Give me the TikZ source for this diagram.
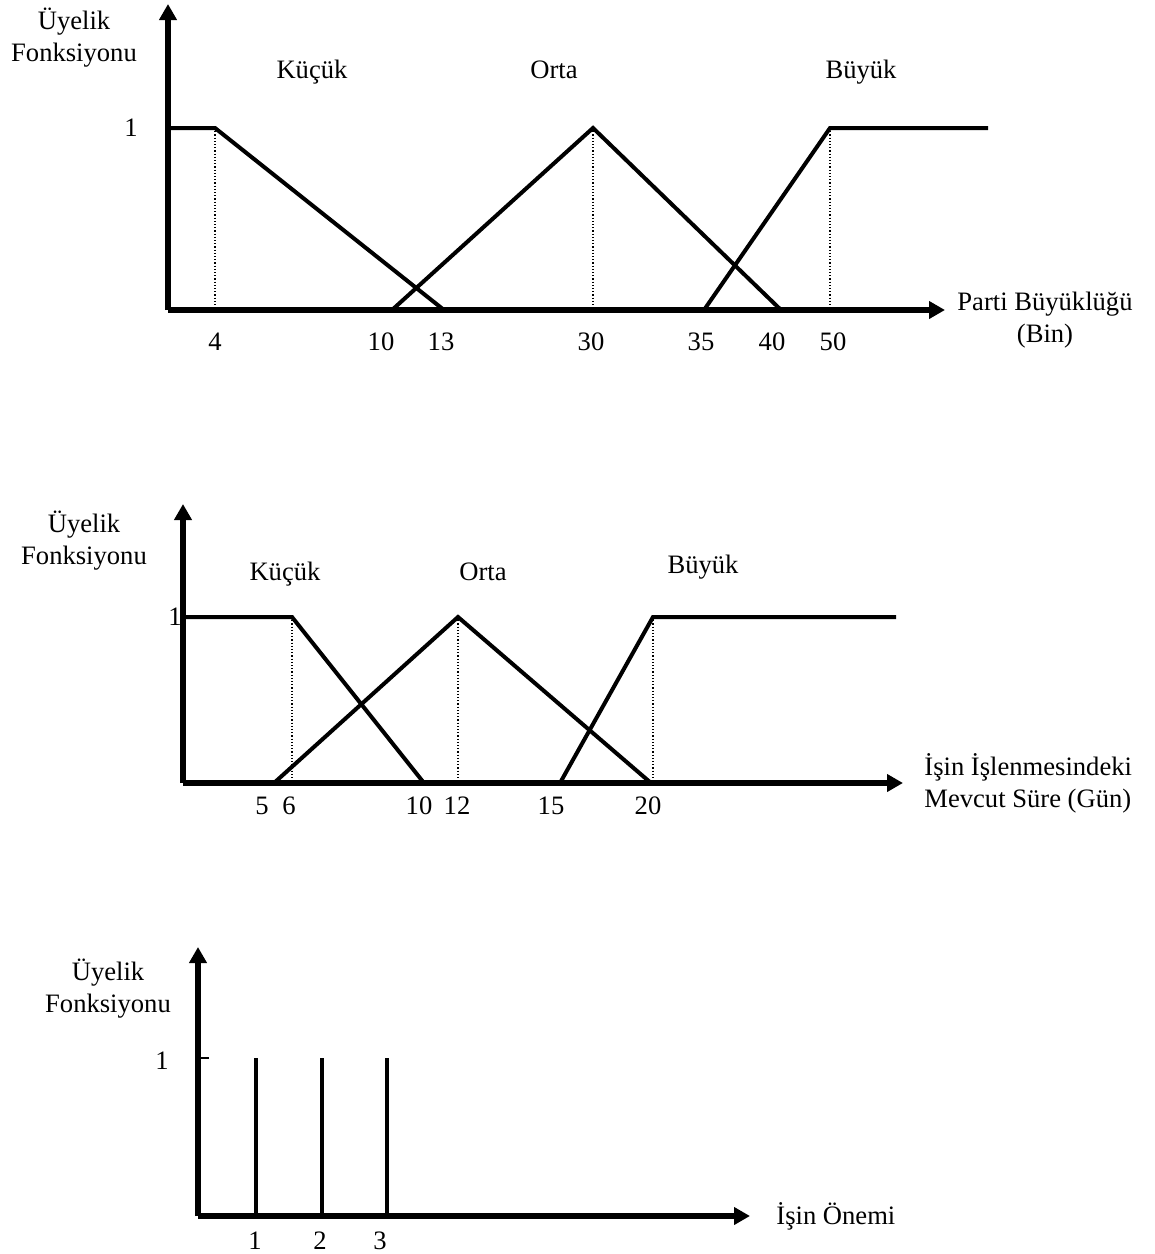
\documentclass[tikz,border=0pt]{standalone}
\usepackage{fontspec}
\setmainfont{Liberation Serif}
\usetikzlibrary{arrows.meta}
\tikzset{
  eksen/.style={
    line width=2.6pt,
    -{Triangle[length=8pt,width=8.5pt]}
  },
  uyelik/.style={
    line width=2pt,
    line join=miter
  },
  kesik/.style={
    densely dotted,
    line width=.6pt
  },
  cubuk/.style={
    line width=2pt
  },
  yazi/.style={
    font=\fontsize{13.3}{16}\selectfont,
    inner sep=0pt,
    align=center
  },
  solyazi/.style={
    yazi,
    align=left,
    anchor=west
  },
  kume/.style={
    yazi,
    anchor=base
  }
}

\begin{document}
\begin{tikzpicture}[x=.5pt,y=-.5pt]
\useasboundingbox (0,0) rectangle (1155,1254);

% parti buyuklugu
\coordinate (o1) at (168,310);
\coordinate (y1) at (168,4);
\coordinate (x1) at (945,310);
\coordinate (k1a) at (168,128);
\coordinate (k1b) at (215,128);
\coordinate (k1c) at (444,310);
\coordinate (or1a) at (392,310);
\coordinate (or1b) at (593,128);
\coordinate (or1c) at (781,310);
\coordinate (b1a) at (704,310);
\coordinate (b1b) at (830,128);
\coordinate (b1c) at (988,128);
\draw[kesik] (k1b) -- (k1b |- o1);
\draw[kesik] (or1b) -- (or1b |- o1);
\draw[kesik] (b1b) -- (b1b |- o1);
\draw[uyelik] (k1a) -- (k1b) -- (k1c);
\draw[uyelik] (or1a) -- (or1b) -- (or1c);
\draw[uyelik] (b1a) -- (b1b) -- (b1c);
\draw[eksen] (o1) -- (y1);
\draw[eksen] (o1) -- (x1);
\node[yazi] (f1) at (74,38) {Üyelik\\Fonksiyonu};
\node[yazi] (bir1) at (131,128) {1};
\node[kume] (kucuk1) at (312,78) {Küçük};
\node[kume] (orta1) at (554,78) {Orta};
\node[kume] (buyuk1) at (861,78) {Büyük};
\node[yazi] (p1) at (1045,320) {Parti Büyüklüğü\\(Bin)};
\foreach \x/\t in {215/4,381/10,441/13,591/30,701/35,772/40,833/50}
  \node[yazi] at (\x,342) {\t};

% islenme suresi
\coordinate (o2) at (183,783);
\coordinate (y2) at (183,504);
\coordinate (x2) at (903,783);
\coordinate (k2a) at (183,617);
\coordinate (k2b) at (292,617);
\coordinate (k2c) at (424,783);
\coordinate (or2a) at (274,783);
\coordinate (or2b) at (458,617);
\coordinate (or2c) at (651,783);
\coordinate (b2a) at (560,783);
\coordinate (b2b) at (653,617);
\coordinate (b2c) at (896,617);
\draw[kesik] (k2b) -- (k2b |- o2);
\draw[kesik] (or2b) -- (or2b |- o2);
\draw[kesik] (b2b) -- (b2b |- o2);
\draw[uyelik] (k2a) -- (k2b) -- (k2c);
\draw[uyelik] (or2a) -- (or2b) -- (or2c);
\draw[uyelik] (b2a) -- (b2b) -- (b2c);
\draw[eksen] (o2) -- (y2);
\draw[eksen] (o2) -- (x2);
\node[yazi] (f2) at (84,541) {Üyelik\\Fonksiyonu};
\node[yazi] (bir2) at (175,617) {1};
\node[kume] (kucuk2) at (285,580) {Küçük};
\node[kume] (orta2) at (483,580) {Orta};
\node[kume] (buyuk2) at (703,573) {Büyük};
\node[solyazi] (p2) at (924,783) {İşin İşlenmesindeki\\Mevcut Süre (Gün)};
\foreach \x/\t in {262/5,289/6,419/10,457/12,551/15,648/20}
  \node[yazi] at (\x,806) {\t};

% isin onemi
\coordinate (o3) at (198,1216);
\coordinate (y3) at (198,947);
\coordinate (x3) at (750,1216);
\coordinate (t3) at (209,1058);
\draw[line width=1pt] (t3) -- (t3 -| o3);
\foreach \x in {256,322,387}
  \draw[cubuk] (\x,1058) -- (\x,1216);
\draw[eksen] (o3) -- (y3);
\draw[eksen] (o3) -- (x3);
\node[yazi] (f3) at (108,989) {Üyelik\\Fonksiyonu};
\node[yazi] (bir3) at (162,1061) {1};
\node[solyazi] (p3) at (776,1216) {İşin Önemi};
\foreach \x/\t in {255/1,320/2,380/3}
  \node[yazi] at (\x,1241) {\t};
\end{tikzpicture}
\end{document}
